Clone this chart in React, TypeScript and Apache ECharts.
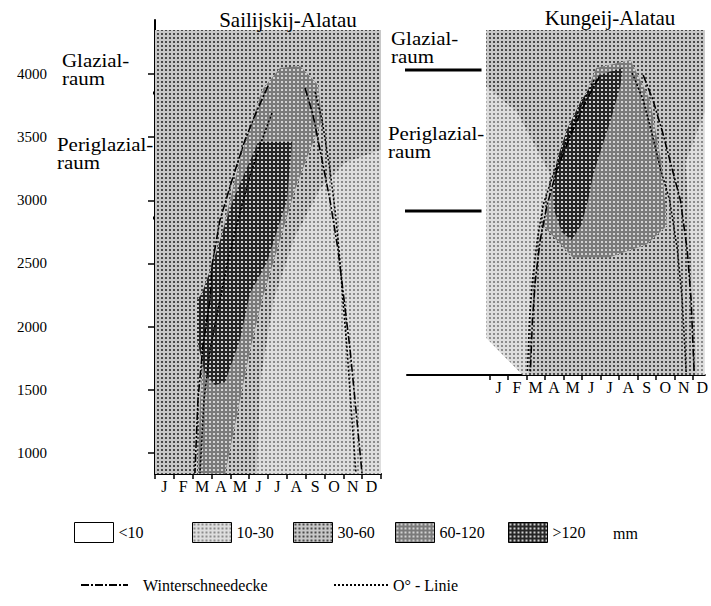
import React, { useEffect, useRef } from "react";
import * as echarts from "echarts";

const FONT = '"Liberation Serif", "DejaVu Serif", serif';

const months = ["J", "F", "M", "A", "M", "J", "J", "A", "S", "O", "N", "D"];
const monthTicks = [0, 1, 2, 3, 4, 5, 6, 7, 8, 9, 10, 11, 12];
const monthLabelPos = [0.5, 1.5, 2.5, 3.5, 4.5, 5.5, 6.5, 7.5, 8.5, 9.5, 10.5, 11.5];
const elevTicks = [1000, 1500, 2000, 2500, 3000, 3500, 4000];

// zone boundaries (m)
const leftGlazialLine = [[-5.3, 3850], [0, 3850]];
const leftPeriLine = [[-5.3, 2860], [0, 2860]];
const rightGlazialLine = [[-5.71, 4032], [-0.42, 4032]];
const rightPeriLine = [[-5.71, 2915], [-0.42, 2915]];

// ---- Sailijskij-Alatau (month, elevation) ----
const sA_3060 = [[0, 4348], [12, 4348], [12, 833], [0, 833]];
const sA_1030 = [[5.4, 833], [5.6, 1577], [6.3, 2211], [7.4, 2700], [8.8, 3100], [10.1, 3300], [12, 3400], [12, 833]];
const sA_60120 = [[5.68, 3873], [6.64, 4048], [7.7, 4063], [8.66, 3913], [8.87, 3636], [8.23, 3398], [7.43, 3082], [6.64, 2686], [5.68, 2211], [5.05, 1815], [4.41, 1340], [3.72, 833], [2.28, 833], [2.39, 1419], [2.66, 1894], [3.03, 2369], [3.72, 2844], [4.51, 3319]];
const sA_120 = [[5.47, 3462], [7.28, 3462], [7.01, 3002], [5.95, 2512], [5.05, 2266], [4.51, 1894], [3.72, 1562], [3.19, 1538], [2.66, 1620], [2.23, 1894], [2.23, 2211], [2.5, 2266], [3.08, 2512], [4.14, 3002]];
const sA_snowUp = [[6.0, 3905], [5.31, 3675], [4.78, 3477], [4.14, 3185], [3.45, 2844], [3.03, 2488], [2.92, 2211], [2.55, 1855], [2.28, 1419], [2.12, 841]];
const sA_snowDown = [[7.97, 3889], [8.39, 3675], [8.87, 3319], [9.29, 3002], [9.72, 2607], [10.04, 2211], [10.36, 1815], [10.67, 1340], [10.99, 841]];
const sA_zeroUp = [[6.21, 3691], [5.68, 3477], [5.05, 3200], [4.41, 2844], [3.88, 2527], [3.45, 2211], [2.92, 1815], [2.6, 1419], [2.39, 841]];
const sA_zeroDown = [[8.5, 3857], [8.87, 3636], [9.29, 3240], [9.56, 2923], [9.77, 2607], [9.98, 2211], [10.2, 1815], [10.46, 1261], [10.67, 841]];

// ---- Kungeij-Alatau ----
const kA_1030 = [[-0.16, 4348], [11.64, 4348], [11.64, 1617], [1.8, 1617], [-0.16, 1910]];
const kA_3060 = [[-0.16, 4348], [11.64, 4348], [11.64, 3700], [10.6, 3300], [10.9, 2600], [11.1, 2000], [11.22, 1617], [2.1, 1617], [2.3, 2300], [2.7, 2800], [3.3, 3200], [1.5, 3700], [-0.16, 3900]];
const kA_60120 = [[2.9, 2800], [3.65, 3240], [4.97, 3755], [5.77, 4048], [7.62, 4111], [8.68, 3794], [9.3, 3300], [9.6, 2800], [8.5, 2650], [6.5, 2550], [4.5, 2550]];
const kA_120 = [[5.93, 3992], [7.2, 4048], [7.09, 3913], [6.56, 3636], [6.03, 3398], [5.61, 3200], [5.34, 3002], [4.97, 2804], [4.44, 2686], [3.92, 2749], [3.49, 2923], [3.44, 3082], [3.65, 3319], [4.18, 3557], [4.97, 3794]];
const kA_snowUp = [[5.93, 3976], [5.24, 3794], [4.39, 3517], [3.65, 3240], [3.12, 2963], [2.75, 2686], [2.49, 2369], [2.33, 2052], [2.22, 1641]];
const kA_zeroUp = [[5.66, 3952], [4.97, 3755], [4.18, 3477], [3.44, 3200], [2.91, 2963], [2.59, 2686], [2.33, 2369], [2.17, 2052], [2.06, 1641]];
const kA_zeroDown = [[7.72, 4008], [8.31, 3794], [8.78, 3533], [9.26, 3240], [9.74, 3002], [10.16, 2607], [10.42, 2211], [10.63, 1641]];
const kA_snowDown = [[8.31, 3992], [8.84, 3794], [9.37, 3533], [9.89, 3240], [10.32, 3002], [10.69, 2607], [10.9, 2211], [11.06, 1641]];

const classNames = ["<10", "10-30", "30-60", "60-120", ">120"];
const SNOW = "Winterschneedecke";
const ZERO = "O° - Linie";

// halftone-like fills: [background, dot colour]
const classTones: [string, string][] = [
  ["#ffffff", "#ffffff"],
  ["#dedede", "#8c8c8c"],
  ["#c8c8c8", "#4a4a4a"],
  ["#7a7a7a", "#d2d2d2"],
  ["#262626", "#cfcfcf"],
];

function makePattern(bg: string, dot: string): any {
  const c = document.createElement("canvas");
  c.width = 4;
  c.height = 4;
  const g = c.getContext("2d");
  if (!g) return bg;
  g.fillStyle = bg;
  g.fillRect(0, 0, 4, 4);
  g.fillStyle = dot;
  g.fillRect(1, 1, 2, 2);
  return { image: c.toDataURL(), repeat: "repeat", imageWidth: 4, imageHeight: 4 };
}

function poly(name: string, idx: number, pts: number[][], fill: any, z: number) {
  return {
    type: "custom",
    name,
    xAxisIndex: idx,
    yAxisIndex: idx,
    z,
    silent: true,
    data: pts,
    encode: { x: 0, y: 1 },
    renderItem: (params: any, api: any) => {
      if (params.dataIndex !== 0) return null;
      const points = pts.map((p) => api.coord(p));
      return { type: "polygon", shape: { points }, style: { fill } };
    },
  };
}

function line(name: string | undefined, idx: number, pts: number[][], kind: "snow" | "zero" | "zone") {
  const ls: any =
    kind === "snow"
      ? { color: "#000", width: 1.6, type: [8, 2, 2, 2] }
      : kind === "zero"
      ? { color: "#000", width: 1.6, type: [2, 2] }
      : { color: "#000", width: 3, type: "solid" };
  return {
    type: "line",
    name,
    xAxisIndex: idx,
    yAxisIndex: idx,
    data: pts,
    symbol: "none",
    showSymbol: false,
    silent: true,
    clip: false,
    z: 5,
    itemStyle: { color: "#000" },
    lineStyle: ls,
  };
}

function xAxisFor(idx: number, min: number, max: number) {
  return {
    gridIndex: idx,
    type: "value",
    min,
    max,
    axisLine: { show: true, onZero: false, lineStyle: { color: "#000", width: 2 } },
    axisTick: { show: true, length: 5, customValues: monthTicks, lineStyle: { color: "#000", width: 1.5 } },
    axisLabel: {
      customValues: monthLabelPos,
      formatter: (v: number) => months[Math.floor(v)] ?? "",
      margin: 4,
      color: "#000",
      fontFamily: FONT,
      fontSize: 16,
    },
    splitLine: { show: false },
  };
}

function legendItem(name: string, left: number, top: number, w: number, h: number, extra: any = {}, padLeft = 0) {
  return {
    left,
    top,
    padding: 0,
    itemWidth: w,
    itemHeight: h,
    selectedMode: false,
    data: [{ name, ...extra }],
    textStyle: { fontFamily: FONT, fontSize: 16, color: "#000", padding: [0, 0, 0, padLeft] },
  };
}

export default function App() {
  const ref = useRef<HTMLDivElement>(null);
  useEffect(() => {
    if (!ref.current) return;
    const fills = classTones.map(([bg, dot], i) => (i === 0 ? "#ffffff" : makePattern(bg, dot)));
    const chart = echarts.init(ref.current, null, { renderer: "svg" });
    const txt = (left: number, top: number, text: string) => ({
      type: "text",
      left,
      top,
      scaleX: 1.1,
      style: { text, font: `19px ${FONT}`, lineHeight: 18, fill: "#000" },
    });
    const option: any = {
      animation: false,
      backgroundColor: "#fff",
      title: [
        { text: "Sailijskij-Alatau", left: 283, top: 4, textAlign: "center", textStyle: { fontFamily: FONT, fontSize: 21, fontWeight: "normal", color: "#000" } },
        { text: "Kungeij-Alatau", left: 605, top: 2, textAlign: "center", textStyle: { fontFamily: FONT, fontSize: 21, fontWeight: "normal", color: "#000" } },
      ],
      grid: [
        { left: 155, right: 330, top: 20, bottom: 132 },
        { left: 407, right: 0, top: 20, bottom: 231 },
      ],
      xAxis: [xAxisFor(0, 0, 12), xAxisFor(1, -4.444, 11.64)],
      yAxis: [
        {
          gridIndex: 0,
          type: "value",
          min: 833,
          max: 4428,
          offset: 105,
          axisLine: { show: true, lineStyle: { color: "#000", width: 2 } },
          axisTick: { show: true, length: 7, customValues: elevTicks, lineStyle: { color: "#000", width: 1.5 } },
          axisLabel: {
            customValues: elevTicks,
            formatter: (v: number) => String(v),
            margin: 3,
            color: "#000",
            fontFamily: FONT,
            fontSize: 15,
          },
          splitLine: { show: false },
        },
        { gridIndex: 1, type: "value", min: 1617, max: 4428, show: false, splitLine: { show: false } },
      ],
      legend: [
        ...classNames.map((n, i) =>
          legendItem(n, [74, 192, 293, 395, 508][i], 522, 39, 20, {
            icon: "rect",
            itemStyle: { color: fills[i], borderColor: "#000", borderWidth: 1 },
          })
        ),
        legendItem(SNOW, 80, 577, 47, 16, { itemStyle: { color: "rgba(0,0,0,0)", opacity: 0, borderWidth: 0 } }, 10),
        legendItem(ZERO, 333, 577, 54, 16, { itemStyle: { color: "rgba(0,0,0,0)", opacity: 0, borderWidth: 0 } }),
      ],
      graphic: [
        { type: "text", left: 613, top: 525, style: { text: "mm", font: `16px ${FONT}`, fill: "#000" } },
        txt(62, 51, "Glazial-\nraum"),
        txt(57, 135, "Periglazial-\nraum"),
        txt(391, 29, "Glazial-\nraum"),
        txt(388, 124, "Periglazial-\nraum"),
      ],
      series: [
        poly(classNames[0], 0, [], fills[0], 1),
        poly(classNames[2], 0, sA_3060, fills[2], 1),
        poly(classNames[1], 0, sA_1030, fills[1], 2),
        poly(classNames[3], 0, sA_60120, fills[3], 3),
        poly(classNames[4], 0, sA_120, fills[4], 4),
        poly(classNames[1], 1, kA_1030, fills[1], 1),
        poly(classNames[2], 1, kA_3060, fills[2], 2),
        poly(classNames[3], 1, kA_60120, fills[3], 3),
        poly(classNames[4], 1, kA_120, fills[4], 4),
        line(SNOW, 0, sA_snowUp, "snow"),
        line(SNOW, 0, sA_snowDown, "snow"),
        line(ZERO, 0, sA_zeroUp, "zero"),
        line(ZERO, 0, sA_zeroDown, "zero"),
        line(SNOW, 1, kA_snowUp, "snow"),
        line(SNOW, 1, kA_snowDown, "snow"),
        line(ZERO, 1, kA_zeroUp, "zero"),
        line(ZERO, 1, kA_zeroDown, "zero"),
        line(undefined, 0, leftGlazialLine, "zone"),
        line(undefined, 0, leftPeriLine, "zone"),
        line(undefined, 1, rightGlazialLine, "zone"),
        line(undefined, 1, rightPeriLine, "zone"),
      ],
    };
    chart.setOption(option);
    return () => chart.dispose();
  }, []);
  return <div ref={ref} style={{ position: "absolute", left: 0, top: 0, width: 711, height: 606 }} />;
}
